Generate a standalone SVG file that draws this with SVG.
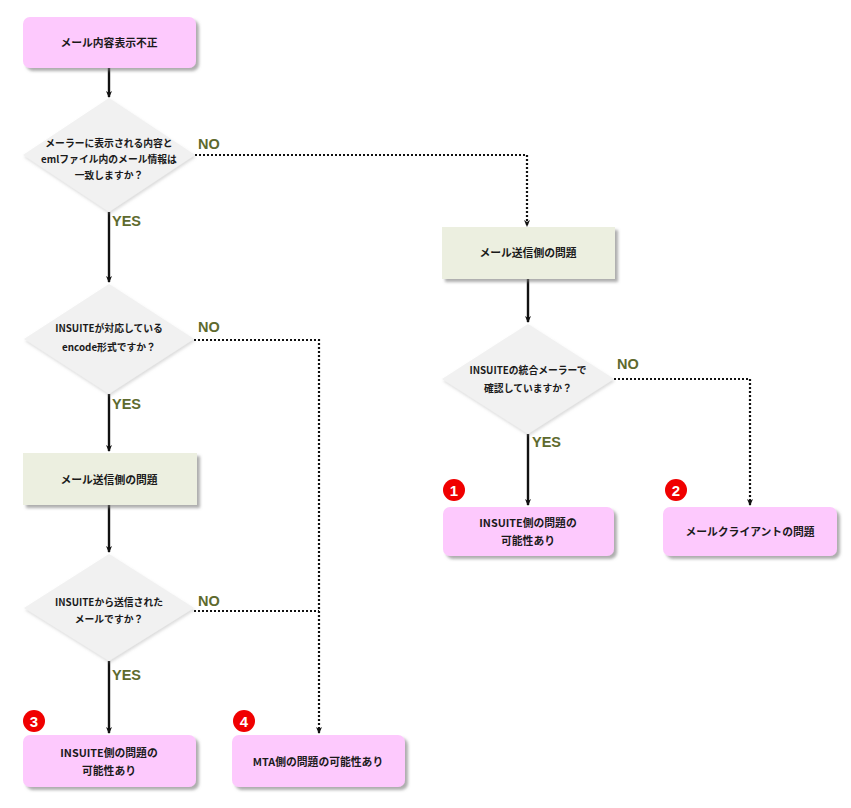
<svg xmlns="http://www.w3.org/2000/svg" width="851" height="808" viewBox="0 0 851 808">
<style>
text{font-family:"Noto Sans CJK JP","Noto Sans",sans-serif;font-weight:bold;fill:#1a1a1a;text-anchor:middle}
.box{filter:url(#sh)}
.pink{fill:#fdc9fd}
.beige{fill:#ecefe0}
.dia{fill:#f1f1f1;filter:url(#sh2)}
.t11{font-size:10.8px}
.t10{font-size:9.8px}
.lab{font-family:"Liberation Sans",Arial,sans-serif;font-size:14.5px;fill:#5e6a2e;text-anchor:start}
.solid{stroke:#111;stroke-width:2.4;fill:none}
.dot{stroke:#111;stroke-width:2.2;fill:none;stroke-dasharray:2 2}
.badge circle{fill:#f00000}
.badge text{fill:#fff;font-family:"Liberation Sans",Arial,sans-serif;font-size:15px}
</style>
<defs>
<filter id="sh" x="-10%" y="-20%" width="130%" height="150%">
<feDropShadow dx="3" dy="3" stdDeviation="1.5" flood-color="#777" flood-opacity="0.6"/>
</filter>
<filter id="sh2" x="-10%" y="-10%" width="130%" height="130%">
<feDropShadow dx="1" dy="2" stdDeviation="1.5" flood-color="#999" flood-opacity="0.35"/>
</filter>
<marker id="ar" markerWidth="8" markerHeight="8" refX="6" refY="4" orient="auto" markerUnits="userSpaceOnUse">
<path d="M0,1 L7,4 L0,7 L2,4 Z" fill="#111"/>
</marker>
</defs>
<rect width="851" height="808" fill="#fff"/>
<g id="connectors">
<path class="solid" d="M109,68 V97" marker-end="url(#ar)"/>
<path class="dot" d="M195,155 H527 V226" marker-end="url(#ar)"/>
<path class="solid" d="M109,212 V282" marker-end="url(#ar)"/>
<path class="solid" d="M528,279 V322" marker-end="url(#ar)"/>
<path class="dot" d="M614,379 H750 V505" marker-end="url(#ar)"/>
<path class="solid" d="M528,434 V505" marker-end="url(#ar)"/>
<path class="dot" d="M194,340 H319 V733" marker-end="url(#ar)"/>
<path class="solid" d="M109,394 V451" marker-end="url(#ar)"/>
<path class="solid" d="M109,505 V552" marker-end="url(#ar)"/>
<path class="dot" d="M194,611 H319"/>
<path class="solid" d="M109,661 V733" marker-end="url(#ar)"/>
</g>
<g id="labels">
<text class="lab" x="198" y="149">NO</text>
<text class="lab" x="112" y="226">YES</text>
<text class="lab" x="198" y="332">NO</text>
<text class="lab" x="112" y="409">YES</text>
<text class="lab" x="198" y="606">NO</text>
<text class="lab" x="112" y="680">YES</text>
<text class="lab" x="617" y="369">NO</text>
<text class="lab" x="532" y="447">YES</text>
</g>
<g id="start">
<rect class="box pink" x="23" y="17" width="173" height="51" rx="7"/>
<text class="t11" x="109" y="47">メール内容表示不正</text>
</g>
<g id="q1">
<polygon class="dia" points="109,98 195,155 109,212 23,155"/>
<text class="t10" x="109" y="147">メーラーに表示される内容と</text>
<text class="t10" x="109" y="163">emlファイル内のメール情報は</text>
<text class="t10" x="109" y="179">一致しますか？</text>
</g>
<g id="sender-right">
<rect class="box beige" x="442" y="227" width="173" height="52"/>
<text class="t11" x="528" y="257">メール送信側の問題</text>
</g>
<g id="q-right">
<polygon class="dia" points="528,324 614,379 528,434 442,379"/>
<text class="t10" x="528" y="374">INSUITEの統合メーラーで</text>
<text class="t10" x="528" y="392">確認していますか？</text>
</g>
<g id="r1">
<rect class="box pink" x="443" y="507" width="171" height="49" rx="7"/>
<text class="t11" x="528" y="527">INSUITE側の問題の</text>
<text class="t11" x="528" y="545">可能性あり</text>
<g class="badge"><circle cx="454" cy="490" r="11"/><text x="454" y="495.5">1</text></g>
</g>
<g id="r2">
<rect class="box pink" x="663" y="507" width="174" height="49" rx="7"/>
<text class="t11" x="750" y="536">メールクライアントの問題</text>
<g class="badge"><circle cx="676" cy="490" r="11"/><text x="676" y="495.5">2</text></g>
</g>
<g id="q2">
<polygon class="dia" points="109,284 194,339 109,394 24,339"/>
<text class="t10" x="109" y="332">INSUITEが対応している</text>
<text class="t10" x="109" y="351">encode形式ですか？</text>
</g>
<g id="sender-left">
<rect class="box beige" x="23" y="453" width="174" height="52"/>
<text class="t11" x="109" y="484">メール送信側の問題</text>
</g>
<g id="q3">
<polygon class="dia" points="109,554 194,608 109,661 24,608"/>
<text class="t10" x="109" y="606">INSUITEから送信された</text>
<text class="t10" x="109" y="623">メールですか？</text>
</g>
<g id="r3">
<rect class="box pink" x="23" y="735" width="173" height="52" rx="7"/>
<text class="t11" x="109" y="757">INSUITE側の問題の</text>
<text class="t11" x="109" y="775">可能性あり</text>
<g class="badge"><circle cx="34" cy="721" r="11"/><text x="34" y="726.5">3</text></g>
</g>
<g id="r4">
<rect class="box pink" x="232" y="735" width="173" height="52" rx="7"/>
<text class="t11" x="318" y="766">MTA側の問題の可能性あり</text>
<g class="badge"><circle cx="244" cy="721" r="11"/><text x="244" y="726.5">4</text></g>
</g>
</svg>
